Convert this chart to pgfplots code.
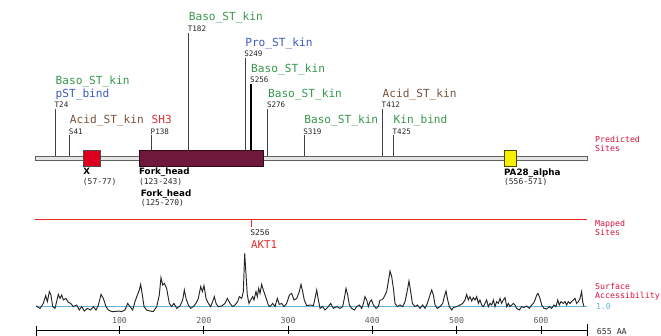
\documentclass[border=0pt]{standalone}
\usepackage{pgfplots}
\pgfplotsset{compat=1.18}
\usepackage{fontspec}
\setmainfont{DejaVu Sans}
\newfontfamily\mono{DejaVu Sans Mono}
\definecolor{kgreen}{RGB}{55,150,75}
\definecolor{kblue}{RGB}{60,90,190}
\definecolor{kbrown}{RGB}{120,82,60}
\definecolor{kred}{RGB}{222,50,50}
\definecolor{crim}{RGB}{212,20,60}
\definecolor{mapred}{RGB}{235,40,40}
\definecolor{xred}{RGB}{220,0,30}
\definecolor{fork}{RGB}{110,25,60}
\definecolor{forkdark}{RGB}{50,8,25}
\definecolor{pay}{RGB}{245,240,0}
\definecolor{acc}{RGB}{100,180,220}
\definecolor{tickgray}{RGB}{95,95,95}
\tikzset{
  big/.style={anchor=base west, inner sep=0pt, font=\mono\fontsize{11.2}{13}\selectfont},
  small/.style={anchor=base west, inner sep=0pt, xshift=-1bp, font=\mono\fontsize{7.6}{9}\selectfont, text=black!85},
  rlab/.style={anchor=base west, inner sep=0pt, font=\mono\fontsize{8.3}{10}\selectfont},
  dom/.style={anchor=base west, inner sep=0pt, font=\bfseries\fontsize{8.8}{10}\selectfont},
  rng/.style={anchor=base west, inner sep=0pt, font=\mono\fontsize{8}{9}\selectfont, text=black!85},
}
\pgfplotsset{base/.style={scale only axis, width=661bp, height=336bp, hide axis,
  xmin=-41.76, xmax=742.35, clip=false}}
\begin{document}
\begin{tikzpicture}
\begin{axis}[base, ymin=0, ymax=336]
% predicted sites bar
\addplot[draw=gray!75!black, fill=gray!20, line width=0.6pt] coordinates {(0,176)(655,176)(655,179.5)(0,179.5)} -- cycle;
% site lines
\addplot[black!75, line width=0.8pt, unbounded coords=jump] coordinates {
(24,179.5)(24,226.5) (24,nan)
(41,179.5)(41,200.5) (41,nan)
(138,179.5)(138,200.5) (138,nan)
(182,179.5)(182,303) (182,nan)
(249,179.5)(249,278) (249,nan)
(276,179.5)(276,226.5) (276,nan)
(319,179.5)(319,200.5) (319,nan)
(412,179.5)(412,226.5) (412,nan)
(425,179.5)(425,200.5)};
\addplot[black, line width=1.3pt] coordinates {(256,179.5)(256,252)};
% domains
\addplot[draw=black!70, fill=xred, line width=0.5pt] coordinates {(57,170)(77,170)(77,186)(57,186)} -- cycle;
\addplot[draw=forkdark, fill=fork, line width=0.5pt] coordinates {(123,170)(270,170)(270,186)(123,186)} -- cycle;
\addplot[forkdark, line width=1.6pt] coordinates {(123.9,170.4)(123.9,185.6)};
\addplot[draw=black!70!pay, fill=pay, line width=0.6pt] coordinates {(556,170)(571,170)(571,186)(556,186)} -- cycle;
% mapped sites
\addplot[color=mapred, line width=0.7pt] coordinates {(0,117)(655,117)};
\addplot[color=mapred, line width=0.8pt] coordinates {(256,117)(256,109)};
% ruler
\addplot[black, line width=0.7pt] coordinates {(1,6)(655,6)};
\addplot[black, line width=0.7pt, unbounded coords=jump] coordinates {
(1,0)(1,10.3) (1,nan) (100,2)(100,10.3) (100,nan) (200,2)(200,10.3) (200,nan)
(300,2)(300,10.3) (300,nan) (400,2)(400,10.3) (400,nan) (500,2)(500,10.3) (500,nan)
(600,2)(600,10.3) (600,nan) (655,0)(655,11.7)};

% site labels
\node[big, text=kgreen] at (axis cs:182,315.3) {Baso\_ST\_kin};
\node[small] at (axis cs:182,304.3) {T182};
\node[big, text=kblue] at (axis cs:249,289.3) {Pro\_ST\_kin};
\node[small] at (axis cs:249,279.3) {S249};
\node[big, text=kgreen] at (axis cs:256,263.3) {Baso\_ST\_kin};
\node[small] at (axis cs:256,253.3) {S256};
\node[big, text=kgreen] at (axis cs:24,251) {Baso\_ST\_kin};
\node[big, text=kblue] at (axis cs:24,238.7) {pST\_bind};
\node[small] at (axis cs:24,228) {T24};
\node[big, text=kgreen] at (axis cs:276,238.7) {Baso\_ST\_kin};
\node[small] at (axis cs:276,228) {S276};
\node[big, text=kbrown] at (axis cs:412,238.7) {Acid\_ST\_kin};
\node[small] at (axis cs:412,228) {T412};
\node[big, text=kbrown] at (axis cs:41,212.7) {Acid\_ST\_kin};
\node[small] at (axis cs:41,201.8) {S41};
\node[big, text=kred] at (axis cs:138,212.7) {SH3};
\node[small] at (axis cs:138,201.8) {P138};
\node[big, text=kgreen] at (axis cs:319,212.7) {Baso\_ST\_kin};
\node[small] at (axis cs:319,201.8) {S319};
\node[big, text=kgreen] at (axis cs:425,212.7) {Kin\_bind};
\node[small] at (axis cs:425,201.8) {T425};

% domain labels
\node[dom] at (axis cs:57,161) {X};
\node[rng] at (axis cs:56.4,151.5) {(57-77)};
\node[dom] at (axis cs:123,161) {Fork\_head};
\node[rng] at (axis cs:123,151.5) {(123-243)};
\node[dom] at (axis cs:125,139.5) {Fork\_head};
\node[rng] at (axis cs:125,130.5) {(125-270)};
\node[dom] at (axis cs:556,160) {PA28\_alpha};
\node[rng] at (axis cs:556,151.5) {(556-571)};

% mapped labels
\node[rng] at (axis cs:255,100.5) {S256};
\node[big, text=mapred, font=\mono\fontsize{10.8}{12}\selectfont] at (axis cs:256,87.7) {AKT1};

% right labels
\node[rlab, text=crim] at (axis cs:664,193.5) {Predicted};
\node[rlab, text=crim] at (axis cs:664,184.3) {Sites};
\node[rlab, text=crim] at (axis cs:664,109) {Mapped};
\node[rlab, text=crim] at (axis cs:664,100) {Sites};
\node[rlab, text=crim] at (axis cs:664,47) {Surface};
\node[rlab, text=crim] at (axis cs:664,37.5) {Accessibility};
\node[rlab, text=acc] at (axis cs:665,26.7) {1.0};
\node[rlab, text=black!80] at (axis cs:666,1.5) {655 AA};

% ruler labels
\node[anchor=base, inner sep=0pt, text=tickgray, font=\mono\fontsize{8.3}{10}\selectfont] at (axis cs:100,12.7) {100};
\node[anchor=base, inner sep=0pt, text=tickgray, font=\mono\fontsize{8.3}{10}\selectfont] at (axis cs:200,12.7) {200};
\node[anchor=base, inner sep=0pt, text=tickgray, font=\mono\fontsize{8.3}{10}\selectfont] at (axis cs:300,12.7) {300};
\node[anchor=base, inner sep=0pt, text=tickgray, font=\mono\fontsize{8.3}{10}\selectfont] at (axis cs:400,12.7) {400};
\node[anchor=base, inner sep=0pt, text=tickgray, font=\mono\fontsize{8.3}{10}\selectfont] at (axis cs:500,12.7) {500};
\node[anchor=base, inner sep=0pt, text=tickgray, font=\mono\fontsize{8.3}{10}\selectfont] at (axis cs:600,12.7) {600};
\end{axis}

\begin{axis}[base, ymin=-0.5, ymax=16.3]
\addplot[acc, line width=0.9pt] coordinates {(1,1)(655,1)};
\addplot[black!85, line width=0.95pt] coordinates {
(1,1.00)(5.7,0.88)(9.6,1.13)(12.4,1.52)(14.4,1.22)(16.8,1.72)(18.7,1.55)(20.7,0.97)
(23.5,0.88)(27.4,1.58)(29.4,1.38)(31.4,1.55)(33.4,1.30)(36.5,1.38)(39.3,1.18)(42.1,1.13)
(45.2,0.97)(49.2,1.05)(52.3,0.80)(55.1,0.97)(58.3,0.75)(61.8,0.88)(65.8,0.80)(69.0,0.97)
(72.1,0.80)(74.9,1.05)(78.1,1.58)(80.8,1.38)(84.0,0.97)(86.8,0.80)(90.7,0.72)(94.7,0.72)
(98.6,0.75)(102.6,0.72)(106.5,0.80)(109.7,1.13)(112.5,0.97)(115.6,0.80)(118.4,1.22)
(121.2,1.55)(123.5,1.80)(125.1,2.08)(127.1,1.55)(129.1,0.97)(132.2,0.80)(136.2,0.75)
(140.1,0.72)(144.1,0.97)(147.2,1.55)(149.2,2.42)(151.2,2.05)(153.2,2.13)(155.9,1.88)
(159.1,1.13)(161.9,0.97)(164.6,1.13)
(167.8,0.88)(171.8,1.00)(174.9,1.30)(176.9,1.80)(178.9,1.38)(181.6,1.05)(184.4,0.88)
(187.6,0.97)(190.7,1.13)(193.5,1.38)(196.3,1.97)(198.3,1.72)(200.2,2.02)(202.6,1.38)
(205.4,1.13)(208.1,0.97)(210.5,1.22)(212.5,1.47)(214.5,1.13)(217.2,0.97)(221.2,1.00)
(225.1,1.13)(227.9,1.38)(231.1,1.13)(234.2,0.97)(237.0,1.05)(240.2,1.22)(242.1,1.47)
(244.9,1.38)(246.9,1.72)(248.5,3.63)(250.1,2.55)(251.6,1.55)(253.6,1.13)(255.6,1.30)
(258.0,1.47)(259.5,1.30)(261.9,1.72)(263.5,1.47)(265.1,1.88)(266.7,1.63)(268.6,2.08)
(270.6,1.80)(272.6,1.55)(274.6,1.30)(276.5,1.05)(278.5,0.97)(281.7,1.13)(284.5,0.97)
(287.2,1.38)(289.6,1.08)(292.4,1.13)(295.1,0.97)(298.3,1.13)(301.5,1.55)(304.2,1.63)
(307.0,1.30)(310.2,1.38)(313.3,1.72)(315.3,2.08)(317.3,1.72)(319.2,1.30)(322.0,1.02)
(326.0,1.05)
(330.0,1.02)(331.9,1.38)(333.9,1.80)(335.9,1.30)(337.9,0.88)(341.0,0.97)(343.8,0.80)
(347.7,0.97)(350.5,1.13)(353.7,0.88)(357.6,0.97)(361.6,0.88)(364.7,0.97)(366.7,1.38)
(368.7,1.88)(370.7,1.55)(372.7,1.05)(375.4,0.88)(378.6,0.80)(381.4,0.97)(384.5,1.05)
(387.3,0.88)(389.3,1.13)(391.2,1.47)(393.2,1.30)(395.2,0.97)(397.2,1.22)(399.1,1.30)
(401.1,1.05)(404.3,0.88)(407.1,0.97)(409.0,1.30)(411.0,1.30)(413.0,1.38)(415.0,1.55)
(416.9,1.72)(418.9,2.22)(420.9,2.75)(422.9,2.47)(424.9,1.88)(426.8,1.13)(429.6,0.97)
(432.8,1.05)(435.9,0.97)(438.7,1.22)(441.5,1.80)(443.4,2.25)(445.4,1.72)(447.4,1.13)
(450.6,0.97)(453.3,1.05)(456.5,0.88)(459.6,1.05)(462.4,0.88)(465.2,1.13)(468.3,1.55)
(470.3,1.80)(472.3,1.55)(474.3,1.05)(477.0,0.88)(480.2,0.97)(483.4,1.13)(485.3,1.47)
(487.3,1.75)(489.3,1.30)(491.3,0.97)(494.0,0.80)
(496.0,0.92)(500.0,0.97)(503.9,1.05)(507.1,1.13)(509.8,1.30)(511.8,1.58)(513.8,1.30)
(515.8,1.47)(517.8,1.25)(519.7,1.42)(521.7,1.30)(523.7,1.47)(525.7,1.13)(527.6,1.30)
(529.6,1.05)(531.6,0.97)(533.6,1.13)(535.5,1.30)(537.5,0.97)(539.5,1.13)(541.5,1.05)
(543.5,1.30)(545.4,0.97)(547.4,1.22)(549.4,1.13)(551.4,1.38)(553.3,1.13)(555.3,1.30)
(557.3,1.42)(559.3,0.97)(561.2,1.13)(563.2,0.97)(567.2,1.13)(569.1,1.05)(571.1,0.88)
(574.3,0.80)(577.1,0.97)(579.8,0.92)(583.0,1.00)(586.2,0.88)(588.9,1.05)(590.9,1.13)
(592.9,1.30)(594.9,1.55)(596.4,1.63)(598.8,1.38)(600.8,1.05)(603.6,0.88)(606.7,0.85)
(609.9,0.97)(612.6,0.88)(615.4,1.05)(617.8,0.97)(619.8,1.30)(621.7,1.05)(623.7,1.22)
(626.5,1.13)(628.5,1.22)(630.4,1.05)(632.4,1.22)(634.4,1.13)(636.4,1.22)(638.3,1.30)
(640.3,1.38)(642.3,1.13)(644.3,1.22)(646.3,1.38)(648.2,1.72)(649.4,1.22)(651.0,0.97)};
\end{axis}
\pgfresetboundingbox
\useasboundingbox (current axis.south west) rectangle (current axis.north east);
\end{tikzpicture}
\end{document}
